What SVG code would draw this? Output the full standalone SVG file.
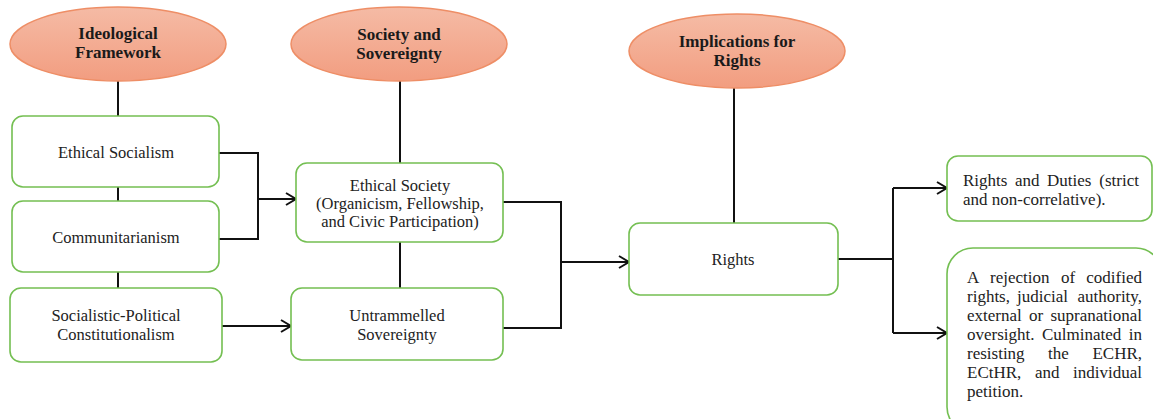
<svg xmlns="http://www.w3.org/2000/svg" width="1153" height="419" viewBox="0 0 1153 419">
<style>
.hd{fill:url(#og);stroke:#EE8E66;stroke-width:1.5}
.bx{fill:#fff;stroke:#74BF52;stroke-width:1.6}
.ht{font-family:"Liberation Serif",serif;font-weight:bold;font-size:17px;fill:#1a1a1a;text-anchor:middle}
.t{font-family:"Liberation Serif",serif;font-size:16.5px;fill:#222;text-anchor:middle}
.tl{font-family:"Liberation Serif",serif;font-size:17px;fill:#222}
.te{font-family:"Liberation Serif",serif;font-size:17px;fill:#222;text-anchor:end}
.c{fill:none;stroke:#111;stroke-width:2}
</style>
<defs>
<linearGradient id="og" x1="0" y1="0" x2="0" y2="1">
<stop offset="0" stop-color="#F5BBA5"/>
<stop offset="1" stop-color="#F29D80"/>
</linearGradient>
<marker id="ar" markerUnits="userSpaceOnUse" markerWidth="14" markerHeight="16" refX="11" refY="7" orient="auto">
<path d="M1,1 L11,7 L1,13" fill="none" stroke="#111" stroke-width="2"/>
</marker>
</defs>
<g id="connectors">
<path class="c" d="M118,81 V116"/>
<path class="c" d="M118,187 V201"/>
<path class="c" d="M118,272 V288"/>
<path class="c" d="M400,81 V163"/>
<path class="c" d="M400,242 V288"/>
<path class="c" d="M734,88 V223"/>
<path class="c" d="M219,153 H258 V239 H219"/>
<path class="c" d="M258,199 H296" marker-end="url(#ar)"/>
<path class="c" d="M222,326 H291" marker-end="url(#ar)"/>
<path class="c" d="M503,202 H561 V328 H503"/>
<path class="c" d="M561,262 H629" marker-end="url(#ar)"/>
<path class="c" d="M838,259 H893"/>
<path class="c" d="M893,188 V333"/>
<path class="c" d="M893,188 H947" marker-end="url(#ar)"/>
<path class="c" d="M893,333 H947" marker-end="url(#ar)"/>
</g>
<g id="h1">
<ellipse class="hd" cx="118" cy="44" rx="108" ry="37"/>
<text class="ht" x="118" y="39">Ideological</text>
<text class="ht" x="118" y="58">Framework</text>
</g>
<g id="h2">
<ellipse class="hd" cx="399" cy="44" rx="108" ry="37"/>
<text class="ht" x="399" y="40">Society and</text>
<text class="ht" x="399" y="59">Sovereignty</text>
</g>
<g id="h3">
<ellipse class="hd" cx="737" cy="51" rx="108" ry="37"/>
<text class="ht" x="737" y="47">Implications for</text>
<text class="ht" x="737" y="66">Rights</text>
</g>
<g id="n1">
<rect class="bx" x="12" y="116" width="207" height="71" rx="11"/>
<text class="t" x="116" y="158">Ethical Socialism</text>
</g>
<g id="n2">
<rect class="bx" x="12" y="201" width="207" height="71" rx="11"/>
<text class="t" x="116" y="243">Communitarianism</text>
</g>
<g id="n3">
<rect class="bx" x="10" y="288" width="212" height="74" rx="11"/>
<text class="t" x="116" y="321">Socialistic-Political</text>
<text class="t" x="116" y="340">Constitutionalism</text>
</g>
<g id="n4">
<rect class="bx" x="296" y="163" width="207" height="79" rx="11"/>
<text class="t" x="400" y="191">Ethical Society</text>
<text class="t" x="400" y="209">(Organicism, Fellowship,</text>
<text class="t" x="400" y="227">and Civic Participation)</text>
</g>
<g id="n5">
<rect class="bx" x="291" y="288" width="212" height="72" rx="11"/>
<text class="t" x="397" y="321">Untrammelled</text>
<text class="t" x="397" y="340">Sovereignty</text>
</g>
<g id="n6">
<rect class="bx" x="629" y="223" width="209" height="72" rx="11"/>
<text class="t" x="733" y="265">Rights</text>
</g>
<g id="n7">
<rect class="bx" x="947" y="156" width="205" height="65" rx="11"/>
<text class="tl" x="963" y="186">Rights</text>
<text class="tl" x="1015" y="186">and</text>
<text class="tl" x="1047" y="186">Duties</text>
<text class="te" x="1139" y="186">(strict</text>
<text class="tl" x="963" y="205">and non-correlative).</text>
</g>
<g id="n8">
<rect class="bx" x="947" y="248" width="215" height="185" rx="26"/>
<text class="tl" x="967" y="283">A</text>
<text class="tl" x="990" y="283">rejection</text>
<text class="tl" x="1061" y="283">of</text>
<text class="te" x="1142" y="283">codified</text>
<text class="tl" x="967" y="302">rights,</text>
<text class="tl" x="1017" y="302">judicial</text>
<text class="te" x="1142" y="302">authority,</text>
<text class="tl" x="967" y="321">external</text>
<text class="tl" x="1029" y="321">or</text>
<text class="te" x="1142" y="321">supranational</text>
<text class="tl" x="967" y="340">oversight.</text>
<text class="tl" x="1042" y="340">Culminated</text>
<text class="te" x="1142" y="340">in</text>
<text class="tl" x="967" y="359">resisting</text>
<text class="tl" x="1048" y="359">the</text>
<text class="te" x="1142" y="359">ECHR,</text>
<text class="tl" x="967" y="378">ECtHR,</text>
<text class="tl" x="1035" y="378">and</text>
<text class="te" x="1142" y="378">individual</text>
<text class="tl" x="967" y="397">petition.</text>
</g>
</svg>
